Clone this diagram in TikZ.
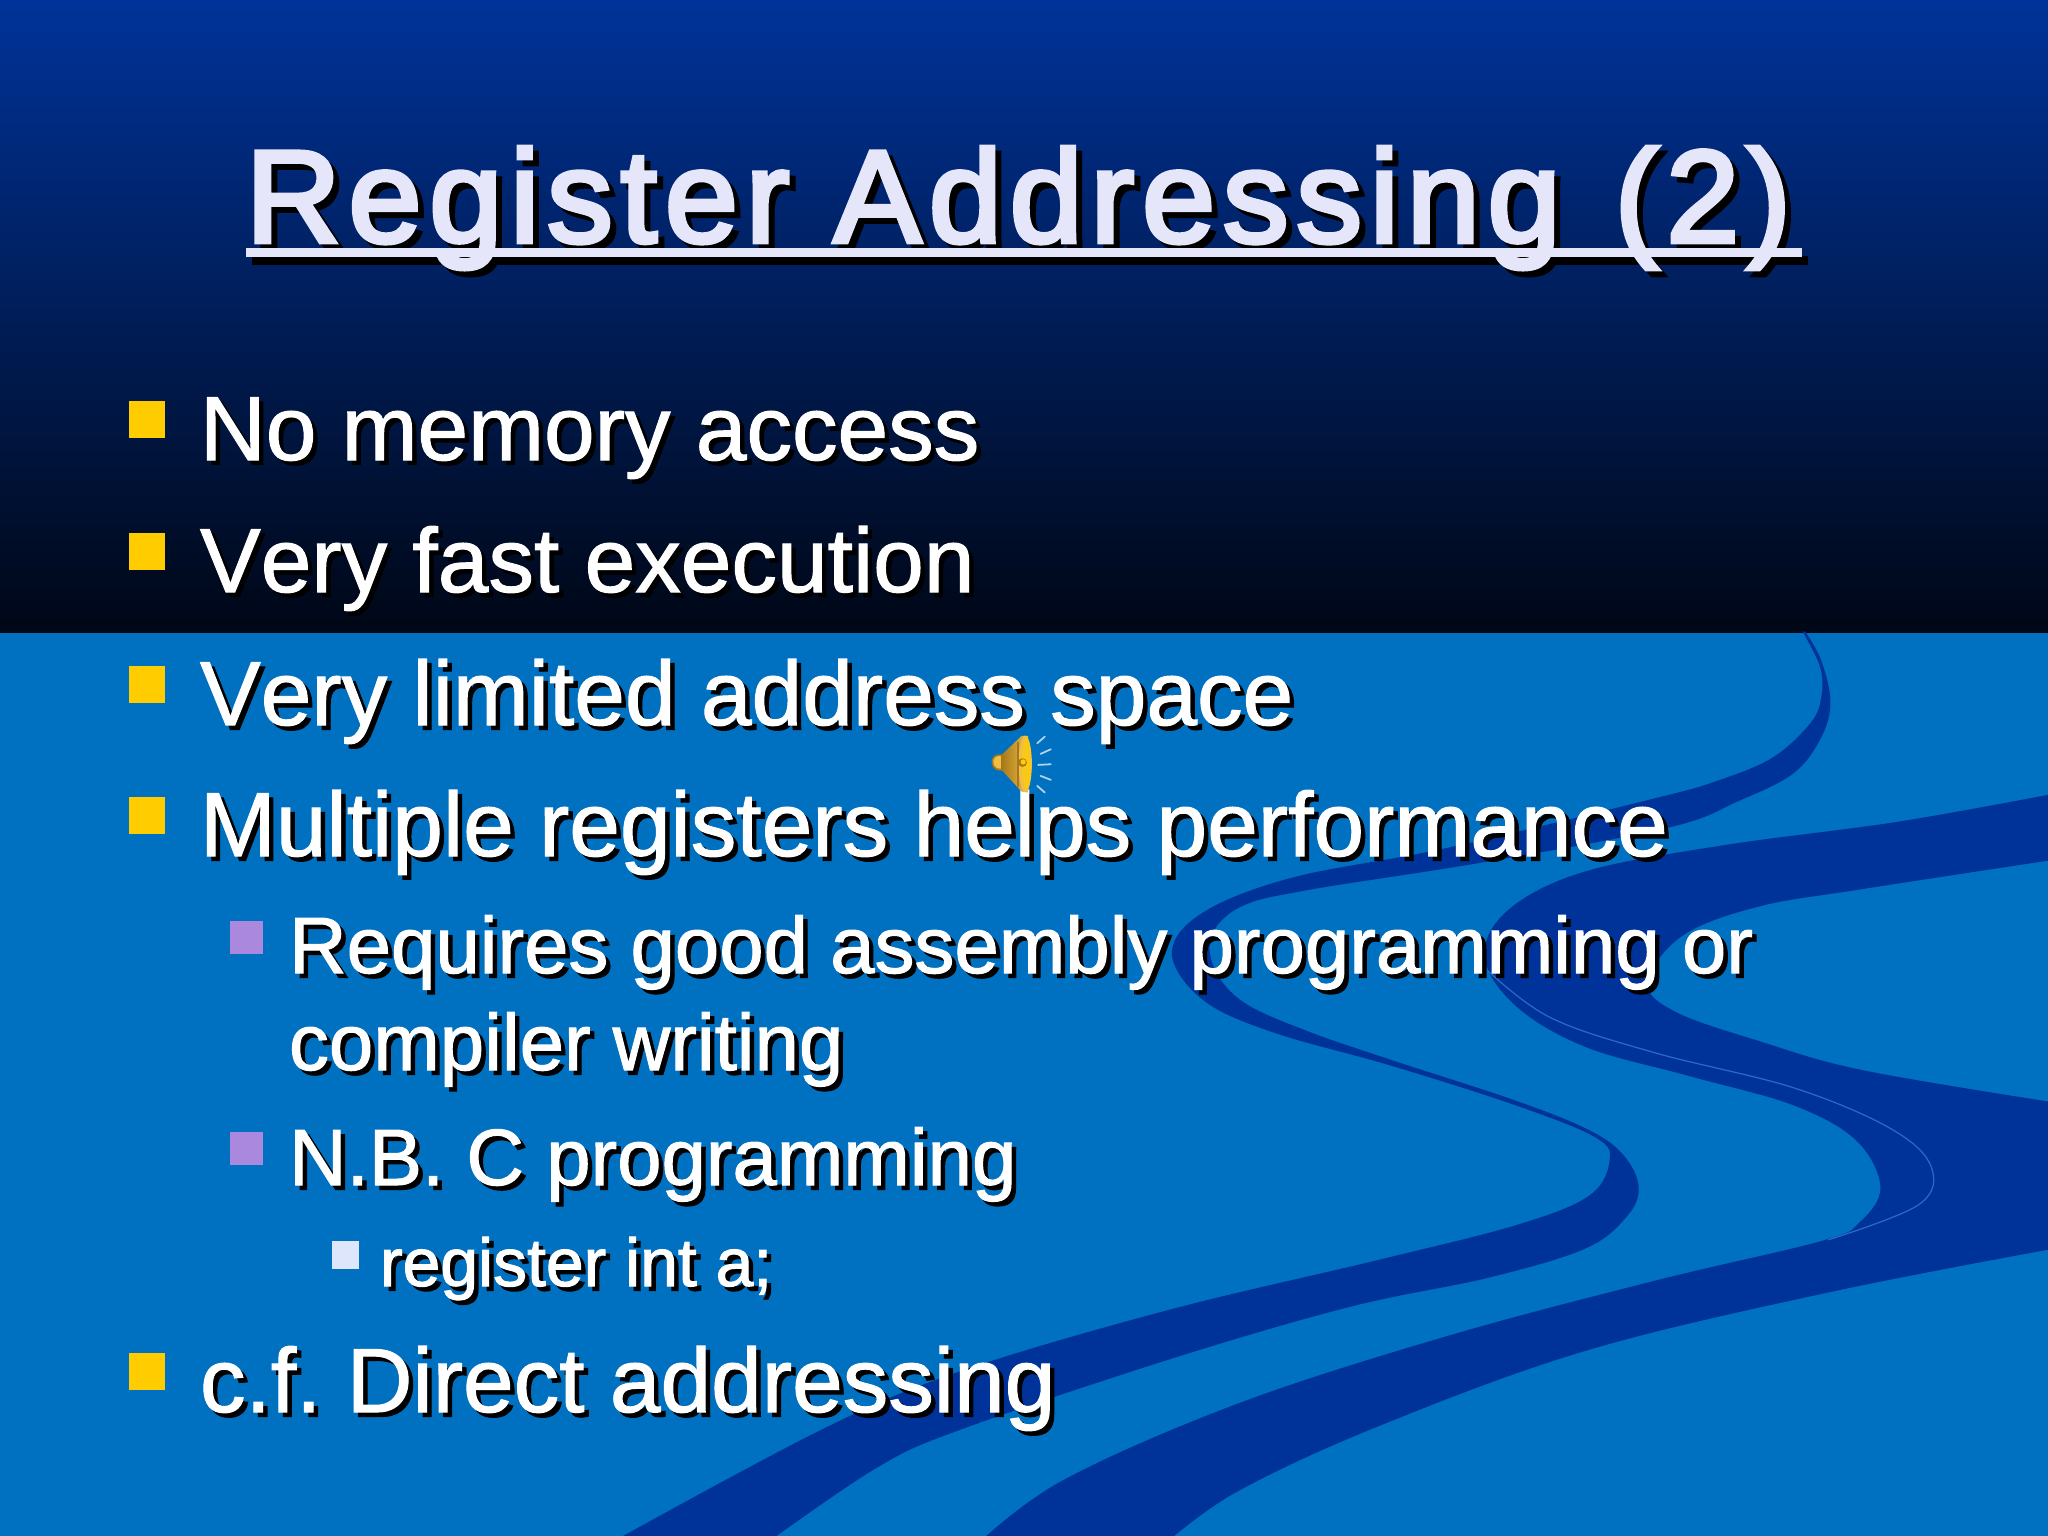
\documentclass[tikz,border=0pt]{standalone}
\usepackage{fontspec}
\setmainfont[Kerning=Off]{Liberation Sans}
\definecolor{slidebg}{HTML}{0070C0}
\definecolor{ribbon}{HTML}{00339A}
\definecolor{ribbonline}{HTML}{2C68C4}
\definecolor{gradtop}{HTML}{003399}
\definecolor{gradbot}{HTML}{000716}
\definecolor{titlecol}{HTML}{E6E6FA}
\definecolor{yellowb}{HTML}{FFCC00}
\definecolor{purpleb}{HTML}{AA88DD}
\definecolor{paleb}{HTML}{DDE6FA}
\definecolor{horn}{HTML}{EDBE48}
\definecolor{hornd}{HTML}{A87818}
\newfontface\titlef[LetterSpace=6.0,Kerning=Off]{Liberation Sans}
\newcommand{\pxfont}[1]{\fontsize{#1}{#1}\selectfont}
% stroked text: #1 stroke width in bp, #2 text
\newcommand{\stroked}[2]{\special{pdf:code 2 Tr #1 w}#2\special{pdf:code 0 Tr 1 w}}
\newcommand{\titletext}{\stroked{1.3}{Register Addressing\hspace{2.8pt} (2)}}
% name, x, baseline y, size in pt, text
\newcommand{\shtext}[5]{%
  \node[txt,text=black] (#1-s) at (#2+4.5,#3+4.5) {\pxfont{#4}\stroked{0.3}{#5}};
  \node[txt,text=white] (#1) at (#2,#3) {\pxfont{#4}\stroked{0.3}{#5}};}
\tikzset{
  txt/.style={anchor=base west,inner sep=0pt,outer sep=0pt},
}
\begin{document}
\begin{tikzpicture}[x=0.01cm,y=-0.01cm]
\useasboundingbox (0,0) rectangle (2048,1536);
\clip (0,0) rectangle (2048,1536);
\fill[slidebg] (0,0) rectangle (2048,1536);
\shade[top color=gradtop,bottom color=gradbot] (0,0) rectangle (2048,632);
% ribbons, in crop coordinates
\begin{scope}[shift={(960,620)},x=0.00694cm,y=-0.00584cm]
\clip (-960,20) rectangle (1600,1600);
\fill[ribbon]
  plot[smooth,tension=.6] coordinates {(1213,20) (1238,80) (1240,130) (1225,175) (1170,235) (1090,275) (1000,305) (700,390) (480,440) (350,500) (305,570) (350,650) (450,705) (620,762) (800,830) (915,885) (935,925) (905,985) (800,1035) (600,1095) (300,1180) (0,1285) (-200,1385) (-498,1575)}
  -- plot[smooth,tension=.6] coordinates {(-274,1575) (-120,1450) (0,1385) (300,1265) (560,1175) (760,1125) (900,1075) (960,1020) (977,970) (955,915) (905,872) (800,822) (620,752) (500,703) (410,655) (368,600) (362,540) (405,490) (500,462) (750,415) (1020,355) (1120,310) (1200,262) (1240,200) (1253,140) (1240,70) (1217,20)}
  -- cycle;
\fill[ribbon]
  plot[smooth,tension=.6] coordinates {(1575,297) (1350,345) (1100,385) (900,430) (790,495) (755,575) (800,660) (900,730) (1050,780) (1200,830) (1290,890) (1325,970) (1295,1030) (1240,1062) (1000,1130) (700,1225) (400,1340) (150,1470) (30,1575)}
  -- plot[smooth,tension=.6] coordinates {(300,1575) (400,1490) (600,1380) (900,1250) (1250,1150) (1575,1075)}
  -- plot[smooth,tension=.6] coordinates {(1575,825) (1300,770) (1150,720) (1030,670) (990,620) (1040,540) (1150,490) (1300,460) (1575,410)}
  -- cycle;
\draw[ribbonline,line width=.35pt]
  plot[smooth,tension=.6] coordinates {(760,600) (850,680) (1000,740) (1200,800) (1340,870) (1398,935) (1380,1000) (1250,1060)};
\end{scope}
% title
\fill[black] (252,256) rectangle (1808,265);
\node[txt,text=black] (title-s) at (252,248) {\titlef\pxfont{37.3}\titletext};
\fill[titlecol] (246,248) rectangle (1802,257);
\node[txt,text=titlecol] (title) at (246,242) {\titlef\pxfont{37.3}\titletext};
% bullets
\foreach \y in {401,533,666,797,1353}
  \fill[yellowb] (129,\y) rectangle (165,\y+37);
\foreach \y in {921,1132}
  \fill[purpleb] (230,\y) rectangle (263,\y+33);
\fill[paleb] (332,1241) rectangle (359,1269);
% text
\shtext{l1}{200}{460}{25.9}{No memory access}
\shtext{l2}{200}{592}{25.9}{Very fast execution}
\shtext{l3}{200}{725}{25.9}{Very limited address space}
\shtext{l4}{200}{856}{25.9}{Multiple registers helps performance}
\shtext{l5}{289}{973}{22.7}{Requires good assembly programming or}
\shtext{l6}{289}{1070}{22.7}{compiler writing}
\shtext{l7}{289}{1185}{22.7}{N.B. C programming}
\shtext{l8}{380}{1286}{19.3}{register int a;}
\shtext{l9}{200}{1412}{25.9}{c.f.\hspace{-2.4pt} Direct addressing}
% speaker, in crop coordinates
\begin{scope}[shift={(950,700)},x=0.00333cm,y=-0.00333cm]
\fill[hornd] (125,185) to[out=90,in=180] (148,163) -- (160,163) -- (160,212) -- (148,212) to[out=180,in=-90] cycle;
\fill[horn] (130,185) to[out=90,in=180] (148,168) -- (158,168) -- (158,206) -- (148,206) to[out=180,in=-90] cycle;
\shade[left color=hornd,right color=horn] (155,165) -- (215,108) -- (235,108) -- (235,278) -- (215,275) -- (155,210) -- cycle;
\fill[horn] (226,192) ellipse (20 and 85);
\fill[yellowb!70!horn] (230,192) ellipse (14 and 78);
\fill[hornd] (218,188) circle (13);
\fill[yellowb] (220,186) circle (8);
\draw[hornd,line width=.5pt] (205,125) -- (205,260);
\draw[white,opacity=.7,line width=.5pt,line cap=round]
  (262,130) -- (285,110) (272,162) -- (303,148) (265,195) -- (303,193) (272,228) -- (303,240) (262,258) -- (285,278);
\end{scope}
\end{tikzpicture}
\end{document}
